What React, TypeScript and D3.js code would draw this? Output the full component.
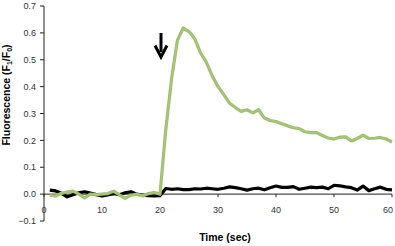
import React from "react";
import * as d3 from "d3";

const times = d3.range(1, 61);
const greenSeries = [
  -0.005, -0.007, 0.003, 0.008, 0.011, 0.0, -0.014, 0.0, -0.002, 0.0,
  0.002, 0.011, -0.003, -0.016, -0.004, 0.0, -0.007, 0.002, 0.006, 0.0,
  0.24, 0.43, 0.572, 0.618, 0.605, 0.578, 0.525, 0.49, 0.44, 0.4,
  0.37, 0.338, 0.322, 0.308, 0.314, 0.302, 0.314, 0.283, 0.274, 0.27,
  0.262, 0.254, 0.247, 0.244, 0.232, 0.229, 0.229, 0.218, 0.209, 0.205,
  0.212, 0.213, 0.198, 0.207, 0.219, 0.207, 0.208, 0.211, 0.205, 0.194,
];
const blackSeries = [
  0.015, 0.012, 0.003, -0.01, -0.002, 0.005, 0.009, 0.004, -0.002, -0.007,
  -0.003, 0.002, -0.002, 0.005, 0.009, 0.0, -0.004, -0.006, -0.007, -0.006,
  0.021, 0.018, 0.02, 0.017, 0.017, 0.02, 0.019, 0.022, 0.02, 0.018,
  0.022, 0.027, 0.024, 0.02, 0.015, 0.02, 0.022, 0.016, 0.024, 0.03,
  0.025, 0.025, 0.028, 0.018, 0.022, 0.026, 0.024, 0.026, 0.02, 0.033,
  0.031, 0.027, 0.024, 0.015, 0.03, 0.013, 0.02, 0.026, 0.018, 0.016,
];
const xTicks = [0, 10, 20, 30, 40, 50, 60];
const yTicks = [-0.1, 0, 0.1, 0.2, 0.3, 0.4, 0.5, 0.6, 0.7];
const arrowTime = 20;

export default function App() {
  const W = 395, H = 246;
  const x = d3.scaleLinear().domain([0, 60]).range([44, 392]);
  const y = d3.scaleLinear().domain([-0.1, 0.7]).range([221, 6]);
  const line = d3
    .line<number>()
    .x((_, i) => x(times[i]))
    .y((d) => y(d));
  const tickFont = "'Liberation Sans Narrow', 'Liberation Sans', Arial, sans-serif";
  const titleFont = "'Liberation Sans', Arial, sans-serif";
  const ax = x(arrowTime) + 1;
  return (
    <svg width={W} height={H} style={{ position: "absolute", left: 0, top: 0 }}>
      <rect width={W} height={H} fill="#fff" />
      <line x1={x(0)} x2={x(0)} y1={y(0.7)} y2={y(-0.1)} stroke="#222" strokeWidth={1} />
      {yTicks.map((t) => (
        <g key={t}>
          <line x1={x(0) - 4} x2={x(0)} y1={y(t)} y2={y(t)} stroke="#222" />
          <text
            x={x(0) - 8}
            y={y(t)}
            dy="0.35em"
            textAnchor="end"
            fontSize={9}
            fontFamily={tickFont}
            fill="#333"
          >
            {d3.format(".1f")(t)}
          </text>
        </g>
      ))}
      <line x1={x(0)} x2={x(60)} y1={y(0)} y2={y(0)} stroke="#222" strokeWidth={1} />
      {xTicks.map((t) => (
        <g key={t}>
          <line x1={x(t)} x2={x(t)} y1={y(0)} y2={y(0) + 3} stroke="#222" />
          <text
            x={Math.min(x(t), 388)}
            y={y(0) + 19}
            textAnchor="middle"
            fontSize={9}
            fontFamily={tickFont}
            fill="#333"
          >
            {t}
          </text>
        </g>
      ))}
      <path d={line(blackSeries) || ""} fill="none" stroke="#000" strokeWidth={3.2} strokeLinejoin="round" />
      <path d={line(greenSeries) || ""} fill="none" stroke="#9fbe6e" strokeWidth={3.2} strokeLinejoin="round" />
      <path d={line(greenSeries) || ""} fill="none" stroke="#b8cf95" strokeWidth={0.8} strokeLinejoin="round" opacity={0.6} />
      <line x1={ax} x2={ax} y1={33} y2={52} stroke="#000" strokeWidth={3} />
      <path d={`M${ax - 6},${45.5} L${ax},${57} L${ax + 6},${45.5}`} fill="none" stroke="#000" strokeWidth={3} strokeLinejoin="miter" />
      <text
        x={225}
        y={241}
        textAnchor="middle"
        fontSize={10.5}
        fontWeight="bold"
        fontFamily={titleFont}
        fill="#000"
      >
        Time (sec)
      </text>
      <text
        transform={`translate(10,95) rotate(-90)`}
        textAnchor="middle"
        fontSize={10.5}
        fontWeight="bold"
        fontFamily={titleFont}
        fill="#000"
      >
        Fluorescence (F
        <tspan fontSize={7} dy={2}>1</tspan>
        <tspan dy={-2}>/F</tspan>
        <tspan fontSize={7} dy={2}>0</tspan>
        <tspan dy={-2}>)</tspan>
      </text>
    </svg>
  );
}
